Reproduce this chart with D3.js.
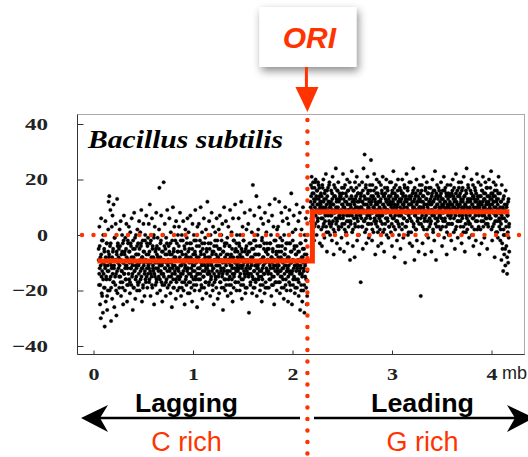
<!DOCTYPE html>
<html>
<head>
<meta charset="utf-8">
<script src="https://cdn.jsdelivr.net/npm/d3@7"></script>
<style>
  body { margin: 0; background: #fff; }
  svg { display: block; }
</style>
</head>
<body>
<script>
// GC skew windows, one row per 0.1 mb bin (genome order)
const laggingStart = 0.05;
const leadingStart = 2.18;
const binSize = 0.1;

const laggingSkew = [
  [-5, -18, 3, -12, -25, -8, -30, 6, -15, -2, -22, -10, -28, 0, -14, -19, -6, -33, -11, 5, -24, -9, -16, -3, -27, -13, -20, 2],
  [12, -8, 14, -20, -4, 9, -15, -31, -11, 3, -23, 7, -6, -17, 11, -12, -26, -1, -9, -18, 4, -14, -29, -7, 13, -21, -3, -10],
  [-12, -5, -19, 2, -9, -15, 5, -22, -7, -13, 0, -17, -3, -25, -10, 7, -14, -6, -20, -1, -11, -16, 4, -8, -24, -12, -2, -18],
  [-9, 3, -16, -6, -21, 1, -12, -4, -18, 6, -10, -14, -27, -2, -8, -19, 8, -13, -5, -23, -11, 0, -15, -7, -20, 2, -17, -3],
  [-7, -14, 5, -20, -10, 1, -16, -4, 9, -12, -24, -8, -2, -18, 4, -11, -6, -22, -13, 0, -9, -17, 7, -15, -3, -19, -10, -1],
  [-11, 4, -17, -6, 11, -13, -22, -2, -9, -15, 6, -19, -4, -12, -8, 0, -25, -14, 3, -10, -18, -5, 8, -16, -7, -21, -1, -12],
  [-8, -15, 2, 17, -11, -20, -3, -13, 7, -17, -6, -24, -10, 0, -14, 19, -9, -18, 4, -12, -5, -22, -1, -16, -7, 9, -19, -11],
  [-10, -4, -18, 6, -13, -7, -21, 1, -15, -9, -26, -2, -12, 10, -16, -6, -19, 3, -11, -14, -8, -23, 5, -17, -3, -12, -20, 0],
  [-6, -13, 3, -19, -9, 8, -15, -2, -22, -11, 0, -17, -7, -14, 5, -20, -10, -4, -25, -12, 2, -16, -8, -18, -1, -13, 6, -21],
  [-12, 1, -17, -5, -21, -9, 7, -14, -3, -19, -10, -24, 4, -13, -7, -16, 0, -11, -20, -6, 9, -15, -2, -18, -8, -26, 3, -12],
  [-9, -16, 4, -12, -20, -2, -14, 10, -7, -18, -11, 1, -23, -5, -15, -10, 6, -19, -3, -13, -8, -17, 2, -21, -6, -12, 12, -14],
  [-11, -3, -18, 5, -14, -8, -22, 0, -16, -10, 8, -13, -6, -20, 3, -12, -25, -4, -17, -9, 1, -15, -7, -19, 6, -11, -2, -23],
  [-8, -15, 2, -21, -11, 7, -5, -17, -13, 0, -19, -9, 4, -14, -27, -6, -12, 10, -16, -3, -20, -10, 5, -18, -7, -13, -1, -22],
  [-13, 3, -9, -18, -4, -15, 9, -11, -21, -7, 1, -16, -12, -24, 6, -8, -19, -2, -14, -10, 11, -17, -5, -13, -20, 0, -11, -6],
  [-10, -17, 6, -12, -4, -20, 0, -14, -8, 12, -16, -23, -6, 3, -11, -18, -2, -13, -9, 8, -15, -21, -5, -12, 2, -19, -7, -14],
  [-9, 4, -15, -28, -6, -12, 9, -18, -3, -14, -10, 1, -21, -8, 18, -16, -5, -13, 7, -19, -11, -2, -17, -7, 14, -22, -12, 0],
  [-11, 2, -16, -7, 10, -13, -20, -4, -9, 6, -15, -24, -1, -12, -18, 4, -8, -14, -3, -21, 8, -10, -17, -6, 1, -13, -19, -5],
  [-7, -14, 5, -19, -10, 11, -3, -16, -12, 0, -22, -8, 7, -15, -5, -18, 3, -11, -25, -9, 13, -13, -2, -17, -6, -20, 2, -12],
  [-10, 3, -17, -6, 12, -13, -21, -1, -15, -8, 8, -19, -4, -12, 5, -16, -9, -23, 0, -14, -7, 10, -18, -11, -3, -20, 6, -13],
  [-12, -24, 4, -8, -17, 9, -14, -3, -20, -10, 15, -6, -25, -13, 1, -18, -9, 7, -15, -4, -21, -11, 2, -16, -7, 11, -19, -12],
  [-9, -16, 5, -22, -6, -13, 8, -27, -11, -3, -18, 2, -14, -24, -8, 10, -20, -12, -5, -28, 0, -15, -10, 6, -19, -7, -25, -13]
];

// second, offset window set (denser core of the cloud)
const laggingSkewB = [
  [-9, -14, -4, -18, -11, -7, -21, -13, -2, -16, -10, -5, -19, -12, -8, -15, -3, -22, -11, -6],
  [-13, -7, -16, -10, -3, -19, -12, -8, -14, -5, -17, -11, -1, -15, -9, -20, -6, -13, -4, -10],
  [-8, -15, -11, -4, -17, -9, -13, -6, -19, -10, -2, -14, -7, -12, -16, -5, -11, -18, -9, -3],
  [-14, -6, -10, -17, -3, -12, -8, -15, -11, -5, -19, -9, -13, -1, -16, -7, -12, -4, -10, -18],
  [-11, -17, -5, -9, -13, -3, -15, -8, -12, -19, -6, -10, -14, -2, -16, -9, -7, -12, -4, -14],
  [-7, -12, -16, -3, -10, -14, -8, -18, -5, -11, -13, -1, -9, -15, -6, -12, -17, -4, -10, -8],
  [-13, -5, -10, -16, -8, -2, -14, -11, -18, -6, -9, -15, -4, -12, -7, -17, -10, -3, -13, -9],
  [-9, -15, -6, -12, -3, -17, -10, -7, -14, -11, -19, -5, -8, -13, -2, -16, -9, -12, -6, -15],
  [-12, -4, -16, -8, -11, -14, -6, -19, -10, -2, -13, -9, -17, -5, -11, -7, -15, -3, -12, -8],
  [-6, -14, -10, -3, -17, -8, -12, -15, -5, -11, -9, -18, -2, -13, -7, -16, -10, -4, -14, -9],
  [-14, -8, -4, -12, -16, -6, -10, -19, -3, -13, -9, -15, -7, -11, -1, -17, -12, -5, -10, -14],
  [-8, -13, -17, -5, -10, -3, -15, -11, -7, -18, -12, -6, -14, -9, -2, -16, -11, -4, -13, -8],
  [-11, -5, -14, -9, -17, -7, -12, -2, -15, -10, -6, -19, -13, -4, -8, -16, -11, -3, -14, -9],
  [-7, -16, -10, -4, -13, -8, -18, -11, -5, -14, -9, -2, -15, -12, -6, -17, -10, -3, -12, -8],
  [-13, -9, -3, -15, -7, -11, -18, -5, -12, -8, -16, -2, -10, -14, -6, -19, -9, -4, -13, -11],
  [-10, -6, -14, -3, -12, -17, -8, -11, -5, -15, -9, -19, -2, -13, -7, -16, -11, -4, -10, -14],
  [-12, -7, -15, -4, -10, -18, -9, -13, -2, -16, -8, -11, -5, -14, -10, -19, -6, -12, -3, -9],
  [-9, -13, -5, -16, -11, -3, -14, -8, -18, -10, -6, -12, -15, -2, -9, -17, -11, -7, -13, -4],
  [-14, -8, -11, -4, -17, -9, -13, -6, -15, -2, -10, -12, -19, -7, -11, -5, -16, -9, -13, -3],
  [-8, -15, -11, -3, -13, -18, -6, -10, -14, -9, -2, -16, -12, -5, -11, -19, -7, -13, -4, -10],
  [-11, -6, -17, -9, -14, -3, -12, -20, -8, -15, -5, -10, -13, -18, -7, -11, -2, -16, -9, -22]
];

const leadingSkew = [
  [12, 18, 5, 21, 9, 15, 1, 19, 7, 13, -2, 17, 10, 4, 20, 8, 14, 0, 16, 11, 6, 19, 3, 13, 9, 17, -3, 12],
  [8, 15, 2, 12, -4, 18, 6, 10, 20, 4, 13, -1, 9, 16, 7, 22, 3, 11, -6, 14, 8, 17, 1, 12, 5, 19, 10, 0],
  [10, 3, 16, 7, -2, 13, 21, 5, 11, -7, 18, 8, 1, 14, 9, 24, 4, 12, -3, 16, 6, 10, 19, 2, 13, 7, 15, -5],
  [6, 14, 9, -1, 17, 4, 11, 22, 7, 13, -6, 10, 2, 18, 8, 15, 0, 12, 5, 20, -3, 9, 16, 3, 11, 7, 19, -9],
  [11, 4, 17, 8, 23, 1, 13, -4, 9, 16, 6, 12, -8, 19, 3, 10, 14, 7, 21, -2, 12, 5, 15, 9, 0, 18, 8, 13],
  [7, -17, 15, 10, 3, 19, 12, -5, 8, 24, 5, 14, 29, 1, 11, 17, 6, -3, 13, 9, 21, 4, 16, 10, -1, 12, 7, 18],
  [9, 16, 27, 4, 12, -2, 18, 8, 14, 1, 10, 22, 6, 13, -7, 11, 17, 5, 20, 9, 3, 15, -4, 12, 7, 19, 10, 2],
  [12, 5, 18, -3, 9, 15, 7, 21, 1, 11, 14, -6, 10, 17, 4, 13, 8, 20, 0, 12, 6, 16, 9, -1, 14, 3, 11, 19],
  [8, 14, 1, 19, 11, -4, 16, 6, 12, 23, 3, 10, -8, 15, 7, 13, 18, 5, 9, -2, 14, 11, 20, 4, 12, 0, 8, 17],
  [10, -5, 16, 7, 13, 2, 20, 9, 15, -1, 11, 6, 18, 12, -10, 8, 14, 3, 22, 10, 5, 17, 0, 13, 7, 11, 19, -3],
  [6, 13, 19, 1, 11, 8, -4, 15, 10, 24, 4, 12, -9, 17, 7, 14, 2, 9, 20, -2, 12, 5, 16, 8, -6, 13, 10, 18],
  [9, 15, -22, 4, 12, 18, 7, -3, 14, 10, 21, 2, 11, 6, -7, 16, 8, 13, 0, 19, 11, 5, 15, -1, 9, 17, 3, 12],
  [11, 4, 17, 9, -6, 14, 7, 20, 12, 1, 16, 8, -2, 13, 23, 6, 10, -9, 15, 3, 18, 11, 5, 14, 0, 9, 16, 7],
  [7, 14, 2, 19, 10, 13, -4, 8, 16, 5, 11, 21, -1, 12, 6, 17, 9, 3, 15, -7, 10, 18, 4, 13, 8, 0, 14, 11],
  [12, 6, 18, 9, -2, 15, 4, 11, 20, 8, 14, 1, 17, 10, -5, 13, 7, 22, 3, 12, 9, 16, -1, 11, 5, 19, 8, 14],
  [8, 15, 3, 12, 19, -3, 10, 6, 17, 13, 1, 21, 9, 14, -6, 11, 4, 16, 7, 24, 10, 2, 13, 18, 5, 12, -1, 9],
  [10, 4, 16, 8, 13, 20, 0, 11, 6, 18, -4, 14, 9, 2, 17, 12, 7, -2, 15, 10, 22, 5, 13, 8, 19, 3, 11, -7],
  [9, 14, 2, 18, 11, -3, 16, 7, 12, 21, 5, 10, 15, -1, 13, 8, 19, 4, 11, 17, 6, -5, 14, 9, 3, 12, 20, 7],
  [11, 6, 17, 9, 23, 2, 13, -2, 15, 8, 12, 19, 4, 10, -8, 14, 7, 18, 1, 12, 16, 5, 9, -1, 13, 21, 8, 3],
  [8, 15, -2, 12, 4, -9, 18, 6, -5, 10, -13, 2, 14, -7, 9, 0, -11, 16, 5, -4, 11, -14, 7, 1, -10, 13, 3, -6]
];

const leadingSkewB = [
  [10, 14, 6, 17, 11, 8, 15, 3, 12, 19, 7, 13, 9, 16, 5, 11, 18, 8, 14, 10],
  [11, 6, 14, 9, 17, 3, 12, 8, 15, 5, 10, 13, 1, 16, 9, 7, 12, 18, 4, 11],
  [7, 12, 4, 15, 9, 11, 2, 14, 8, 17, 6, 10, 13, 5, 16, 9, 3, 12, 7, 14],
  [13, 8, 3, 11, 15, 6, 10, 17, 4, 12, 9, 1, 14, 7, 11, 16, 5, 9, 13, 8],
  [5, 10, 14, 7, 12, 2, 16, 9, 11, 4, 13, 8, 17, 6, 10, 15, 3, 12, 9, 7],
  [10, 14, 6, 12, 3, 16, 9, 11, 5, 13, 8, 18, 2, 11, 7, 15, 10, 4, 13, 8],
  [6, 11, 14, 8, 2, 13, 10, 16, 5, 9, 12, 4, 15, 7, 11, 1, 14, 9, 6, 12],
  [9, 13, 7, 16, 4, 11, 8, 14, 2, 10, 15, 6, 12, 9, 17, 5, 11, 13, 3, 8],
  [12, 7, 10, 4, 15, 9, 13, 6, 17, 11, 2, 14, 8, 10, 5, 16, 12, 7, 3, 13],
  [7, 12, 9, 15, 4, 11, 14, 6, 10, 17, 3, 13, 8, 12, 5, 16, 9, 1, 11, 14],
  [11, 8, 14, 5, 12, 9, 16, 3, 10, 13, 7, 15, 2, 11, 9, 6, 14, 12, 4, 10],
  [13, 6, 10, 16, 8, 3, 12, 14, 9, 5, 11, 17, 7, 13, 2, 10, 15, 8, 12, 6],
  [8, 13, 5, 11, 15, 9, 2, 12, 7, 16, 10, 4, 14, 8, 11, 6, 13, 17, 3, 10],
  [12, 9, 15, 6, 11, 3, 13, 8, 10, 16, 5, 12, 9, 14, 1, 11, 7, 15, 10, 4],
  [9, 14, 7, 11, 4, 16, 10, 13, 6, 12, 8, 2, 15, 9, 11, 5, 14, 10, 17, 7],
  [11, 5, 13, 9, 16, 7, 12, 3, 10, 14, 8, 11, 1, 15, 6, 12, 9, 17, 4, 13],
  [7, 12, 9, 15, 3, 11, 14, 6, 10, 13, 8, 16, 5, 12, 9, 2, 14, 11, 7, 10],
  [12, 8, 14, 5, 11, 16, 9, 3, 13, 7, 10, 15, 6, 12, 9, 17, 4, 11, 8, 14],
  [10, 13, 6, 15, 9, 11, 3, 14, 8, 12, 16, 5, 10, 7, 13, 1, 11, 15, 9, 6],
  [5, 10, 2, 12, 7, -3, 9, 13, 0, 6, 11, -5, 8, 3, 10, -8, 7, 12, -1, 4]
];

// average skew on each replichore
const meanSkew = [
  { from: 0.04, to: 2.2, value: -9.4 },
  { from: 2.2, to: 4.18, value: 8.4 }
];
const oriPos = 2.15;

const xTicks = [0, 1, 2, 3, 4];
const yTicks = [-40, -20, 0, 20, 40];

const red = "#ff3300";
const serif = "'Liberation Serif', 'Times New Roman', serif";
const sans = "'Liberation Sans', Arial, sans-serif";

const width = 528, height = 457;

const svg = d3.select("body").append("svg")
    .attr("width", width)
    .attr("height", height);

const x = d3.scaleLinear().domain([0, 4]).range([93.5, 491.5]);
const y = d3.scaleLinear().domain([-40, 40]).range([346, 124]);

// flatten bins into points spread evenly along each bin
function binPoints(rows, start) {
    const pts = [];
    rows.forEach(function (row, i) {
        row.forEach(function (v, j) {
            pts.push({ pos: start + i * binSize + (j + 0.5) / row.length * binSize, skew: v });
        });
    });
    return pts;
}
const points = binPoints(laggingSkew, laggingStart)
    .concat(binPoints(laggingSkewB, laggingStart))
    .concat(binPoints(leadingSkew, leadingStart))
    .concat(binPoints(leadingSkewB, leadingStart));

// frame
svg.append("rect")
    .attr("x", 77.5).attr("y", 114.5)
    .attr("width", 447).attr("height", 240)
    .attr("fill", "none")
    .attr("stroke", "#aaa");
svg.append("path")
    .attr("d", "M77.5,114.5V354.5H524.5")
    .attr("fill", "none")
    .attr("stroke", "#333");

// axes
const yAxis = svg.append("g")
    .attr("transform", "translate(77.5,0)")
    .call(d3.axisLeft(y).tickValues(yTicks).tickSizeInner(-6).tickSizeOuter(0).tickPadding(29.5)
        .tickFormat(function (d) { return d < 0 ? "\u2212" + Math.abs(d) : d; }));
yAxis.select(".domain").remove();
yAxis.selectAll("line").attr("stroke", "#333");
yAxis.selectAll("text")
    .attr("font-family", serif)
    .attr("font-size", 17)
    .attr("font-weight", "bold")
    .attr("fill", "#222")
    .attr("textLength", function (d) { return d < 0 ? 36 : (d === 0 ? 11 : 23); })
    .attr("lengthAdjust", "spacingAndGlyphs");

const xAxis = svg.append("g")
    .attr("transform", "translate(0,354.5)")
    .call(d3.axisBottom(x).tickValues(xTicks).tickSizeInner(-4).tickSizeOuter(0).tickPadding(13.5)
        .tickFormat(d3.format("d")));
xAxis.select(".domain").remove();
xAxis.selectAll("line").attr("stroke", "#333");
xAxis.selectAll("text")
    .attr("font-family", serif)
    .attr("font-size", 17)
    .attr("font-weight", "bold")
    .attr("fill", "#222")
    .attr("textLength", 11)
    .attr("lengthAdjust", "spacingAndGlyphs");

svg.append("text")
    .attr("x", 502).attr("y", 379)
    .attr("font-family", sans)
    .attr("font-size", 18)
    .attr("fill", "#222")
    .text("mb");

// title
svg.append("text")
    .attr("x", 88).attr("y", 148)
    .attr("font-family", serif)
    .attr("font-size", 26)
    .attr("font-style", "italic")
    .attr("font-weight", "bold")
    .attr("textLength", 195)
    .attr("lengthAdjust", "spacingAndGlyphs")
    .text("Bacillus subtilis");

// scatter
svg.append("g")
    .selectAll("circle")
    .data(points)
    .enter().append("circle")
    .attr("cx", function (d) { return x(d.pos); })
    .attr("cy", function (d) { return y(d.skew); })
    .attr("r", 1.8)
    .attr("fill", "#000")
    .attr("stroke", "#000")
    .attr("stroke-opacity", 0.3)
    .attr("stroke-width", 1);

// zero line, dotted
svg.append("line")
    .attr("x1", 82).attr("x2", 522)
    .attr("y1", y(0)).attr("y2", y(0))
    .attr("stroke", red)
    .attr("stroke-width", 4.5)
    .attr("stroke-linecap", "round")
    .attr("stroke-dasharray", "0,11.5");

// mean skew step
const stepPts = [];
meanSkew.forEach(function (s) {
    stepPts.push([s.from, s.value], [s.to, s.value]);
});
svg.append("path")
    .attr("d", d3.line().x(function (d) { return x(d[0]); }).y(function (d) { return y(d[1]); })(stepPts))
    .attr("fill", "none")
    .attr("stroke", red)
    .attr("stroke-width", 5);

// origin of replication, dotted vertical
const ox = x(oriPos);
svg.append("line")
    .attr("x1", ox).attr("x2", ox)
    .attr("y1", 120).attr("y2", 460)
    .attr("stroke", red)
    .attr("stroke-width", 4.5)
    .attr("stroke-linecap", "round")
    .attr("stroke-dasharray", "0,11.5");

// ORI label box
const defs = svg.append("defs");
const shadow = defs.append("filter").attr("id", "shadow")
    .attr("x", "-30%").attr("y", "-30%").attr("width", "160%").attr("height", "160%");
shadow.append("feDropShadow")
    .attr("dx", 2).attr("dy", 4)
    .attr("stdDeviation", 4)
    .attr("flood-color", "#000")
    .attr("flood-opacity", 0.45);

svg.append("rect")
    .attr("x", ox - 48).attr("y", 7)
    .attr("width", 97).attr("height", 60)
    .attr("fill", "#fff")
    .attr("filter", "url(#shadow)");
svg.append("text")
    .attr("x", ox + 2).attr("y", 48)
    .attr("text-anchor", "middle")
    .attr("font-family", sans)
    .attr("font-size", 30)
    .attr("font-style", "italic")
    .attr("font-weight", "bold")
    .attr("fill", red)
    .text("ORI");

svg.append("line")
    .attr("x1", ox - 1).attr("x2", ox - 1)
    .attr("y1", 67).attr("y2", 90)
    .attr("stroke", red)
    .attr("stroke-width", 3);
svg.append("path")
    .attr("d", "M" + (ox - 12) + ",87L" + (ox + 11) + ",87L" + ox + ",112Z")
    .attr("fill", red);

// replichore arrows
const arrowY = 418;
svg.append("line")
    .attr("x1", 100).attr("x2", 300)
    .attr("y1", arrowY).attr("y2", arrowY)
    .attr("stroke", "#000").attr("stroke-width", 2.5);
svg.append("path")
    .attr("d", "M81," + arrowY + "L108," + (arrowY - 13) + "L100," + arrowY + "L108," + (arrowY + 14) + "Z")
    .attr("fill", "#000");
svg.append("line")
    .attr("x1", 314).attr("x2", 520)
    .attr("y1", arrowY).attr("y2", arrowY)
    .attr("stroke", "#000").attr("stroke-width", 2.5);
svg.append("path")
    .attr("d", "M534," + arrowY + "L507," + (arrowY - 13) + "L515," + arrowY + "L507," + (arrowY + 14) + "Z")
    .attr("fill", "#000");

const strands = [
    { name: "Lagging", base: "C rich", cx: 186.5 },
    { name: "Leading", base: "G rich", cx: 422.5 }
];
svg.selectAll(".strand")
    .data(strands)
    .enter().append("text")
    .attr("class", "strand")
    .attr("x", function (d) { return d.cx; })
    .attr("y", 412)
    .attr("text-anchor", "middle")
    .attr("font-family", sans)
    .attr("font-size", 25)
    .attr("font-weight", "bold")
    .attr("textLength", 103)
    .attr("lengthAdjust", "spacingAndGlyphs")
    .text(function (d) { return d.name; });
svg.selectAll(".base")
    .data(strands)
    .enter().append("text")
    .attr("class", "base")
    .attr("x", function (d) { return d.cx; })
    .attr("y", 451)
    .attr("text-anchor", "middle")
    .attr("font-family", sans)
    .attr("font-size", 27)
    .attr("fill", red)
    .text(function (d) { return d.base; });
</script>
</body>
</html>
